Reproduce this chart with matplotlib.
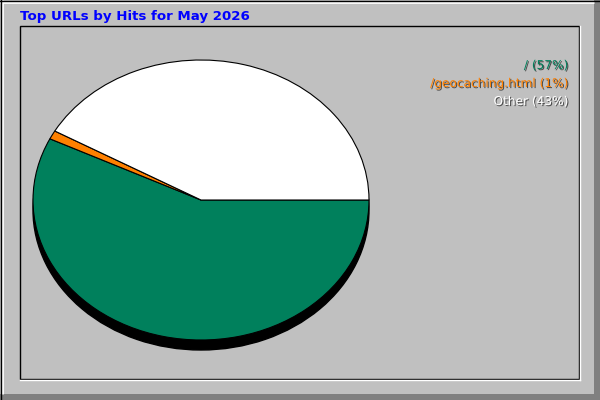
import matplotlib.pyplot as plt
import matplotlib.patheffects as pe
from matplotlib.patches import Rectangle

# Datos del gráfico
title = 'Top URLs by Hits for May 2026'
urls = ['/', '/geocaching.html', 'Other']
shares = [57.2, 1.0, 41.8]
pct_labels = ['57%', '1%', '43%']
slice_colors = ['#00805c', '#ff8000', '#ffffff']

W, H = 600, 400
fig = plt.figure(figsize=(6, 4), dpi=100, facecolor='#c0c0c0')

# Fondo y bordes en coordenadas de píxel
bg = fig.add_axes([0, 0, 1, 1])
bg.set_xlim(0, W)
bg.set_ylim(H, 0)
bg.axis('off')
bg.add_patch(Rectangle((0, 0), W, H, facecolor='#c0c0c0', edgecolor='none'))
bg.add_patch(Rectangle((594, 0), 6, H, facecolor='#808080', edgecolor='none'))
bg.add_patch(Rectangle((0, 394), W, 6, facecolor='#808080', edgecolor='none'))
bg.plot([1.5, 1.5], [0, 394], color='white', lw=2, solid_capstyle='butt')
bg.plot([0, 594], [1.5, 1.5], color='white', lw=2, solid_capstyle='butt')
bg.plot([0.5, 0.5], [0, 400], color='black', lw=1)
bg.plot([0, 600], [0.5, 0.5], color='black', lw=1)
bg.add_patch(Rectangle((19.5, 25.5), 559, 353, fill=False, edgecolor='black', lw=1))
bg.plot([20, 580], [379.5, 379.5], color='white', lw=1)
bg.plot([579.5, 579.5], [26, 380], color='white', lw=1)

# Título
bg.text(20, 20, title, color='#0000ff', fontsize=9.6, fontweight='bold',
        ha='left', va='baseline')

# Leyenda con sombra
for i, (u, p, c) in enumerate(zip(urls, pct_labels, slice_colors)):
    bg.text(568, 69 + i * 18, f'{u} ({p})', color=c, fontsize=8.75,
            ha='right', va='baseline',
            path_effects=[pe.withSimplePatchShadow(offset=(0.8, -0.8),
                                                   shadow_rgbFace='#404040',
                                                   alpha=0.9)])

# Pastel elíptico con sombra inferior
cx, cy, rx, ry, depth = 201, 200, 168, 140, 10


def pie_axes(dy):
    return fig.add_axes([(cx - rx) / W, 1 - (cy + ry + dy) / H,
                         2 * rx / W, 2 * ry / H])


sh = pie_axes(depth)
sh.pie([1], colors=['black'], wedgeprops=dict(edgecolor='black', linewidth=1))
sh.set_aspect('auto')
sh.set_xlim(-1, 1)
sh.set_ylim(-1, 1)

ax = pie_axes(0)
ax.pie(shares, colors=slice_colors, startangle=0, counterclock=False,
       wedgeprops=dict(edgecolor='black', linewidth=0.8))
ax.set_aspect('auto')
ax.set_xlim(-1, 1)
ax.set_ylim(-1, 1)

fig.savefig('out.png', dpi=100, facecolor='#c0c0c0')
